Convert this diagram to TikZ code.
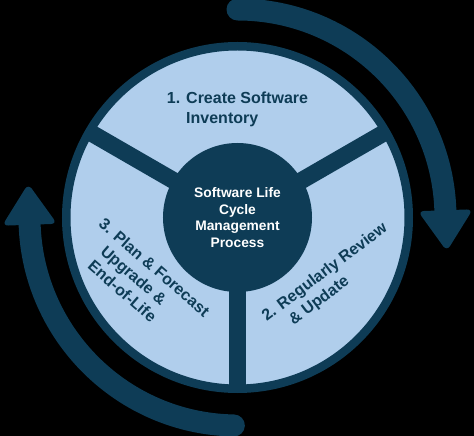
\documentclass[tikz,border=0pt]{standalone}
\usepackage{fontspec}
\setmainfont{Liberation Sans}
\usetikzlibrary{calc}
\definecolor{navy}{RGB}{14,60,86}
\definecolor{paleblue}{RGB}{176,206,236}

\begin{document}
\begin{tikzpicture}[x=1pt,y=1pt,
    stage/.style={text=navy, font=\bfseries\fontsize{16}{19.5}\selectfont, align=left, inner sep=0pt},
    spoke/.style={navy, line width=17pt},
    cyclearrow/.style={navy, line width=22pt, line cap=round}]
            \fill[black] (-237.5,-218.5) rectangle (236.5,217.5);
            \useasboundingbox (-237.5,-218.5) rectangle (236.5,217.5);
            \fill[paleblue] (0,0) circle (171);
            \foreach \a in {30,150,270}
                \draw[spoke] (0,0) -- (\a:171);
            \draw[navy, line width=8.5pt] (0,0) circle (171.25);
            \node[circle, fill=navy, minimum size=149pt, inner sep=0pt, text=white, align=center,
                font=\bfseries\fontsize{13.8}{16.7}\selectfont] (core) at (0,0)
                {Software Life\\Cycle\\Management\\Process};
            \node[stage] (inventory) at (0,108) {1. Create Software\\\hphantom{1. }Inventory};
            \node[stage, rotate=37] (review) at (-34:112.5) {2. Regularly Review\\\hphantom{2. }\& Update};
            \node[stage, rotate=-41] (plan) at (214:115.6)
                {3. Plan \& Forecast\\\hphantom{3. }Upgrade \&\\\hphantom{3. }End-of-Life};
            % outer arrows
            \draw[cyclearrow] (90:208) arc[start angle=90, end angle=2, radius=208];
            \fill[navy, rounded corners=6pt] (2:180.5) -- (2:235.5) -- ($(2:208)+(-88:41)$) -- cycle;
            \draw[cyclearrow] (269:208) arc[start angle=269, end angle=182, radius=208];
            \fill[navy, rounded corners=6pt] (182:180.5) -- (182:235.5) -- ($(182:208)+(92:41)$) -- cycle;
        \end{tikzpicture}
\end{document}
